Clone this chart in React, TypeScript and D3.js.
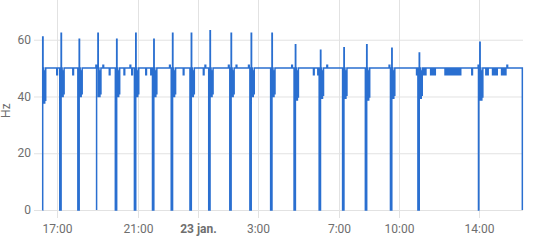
import React from 'react';
import * as d3 from 'd3';

// ---- data ----
const yTicks = [0, 20, 40, 60];
const xTickTimes = ['2024-01-22T17:00', '2024-01-22T21:00', '2024-01-23T00:00', '2024-01-23T03:00', '2024-01-23T07:00', '2024-01-23T10:00', '2024-01-23T14:00'];
const xTickLabels = ['17:00', '21:00', '23 jan.', '3:00', '7:00', '10:00', '14:00'];
const xTickBold = [false, false, true, false, false, false, false];

const domainStart = '2024-01-22T15:50';
const domainEnd = '2024-01-23T16:11';
const yMax = 74;

const nominal = 50;
const startTime = '2024-01-22T16:15';
const startPeak = 61;
const startLow = 37.7;
const endTime = '2024-01-23T16:09';

const outageTimes = [
  '2024-01-22T17:07', '2024-01-22T18:01', '2024-01-22T18:57', '2024-01-22T19:53',
  '2024-01-22T20:50', '2024-01-22T21:44', '2024-01-22T22:40', '2024-01-22T23:36',
  '2024-01-23T00:32', '2024-01-23T01:35', '2024-01-23T02:35', '2024-01-23T03:37',
  '2024-01-23T04:47', '2024-01-23T06:02', '2024-01-23T07:12', '2024-01-23T08:20',
  '2024-01-23T09:35', '2024-01-23T10:57', '2024-01-23T13:58',
];
const outagePeaks = [62.3, 60.2, 62.3, 60.2, 62.3, 60.2, 62.3, 62.3, 63.2, 62.3, 62.3, 62.3, 58.2, 56.3, 57.2, 58.2, 57.0, 55.3, 59.1];
const outageLows = [40, 40, 40, 40, 40, 40, 40, 40, 40, 40, 40, 40, 38.8, 39.4, 39.4, 38.8, 39.4, 39.4, 38.8];

const dipTimes = [
  '2024-01-22T16:58', '2024-01-22T17:46', '2024-01-22T19:35', '2024-01-22T20:19',
  '2024-01-22T20:42', '2024-01-22T21:24', '2024-01-22T21:39', '2024-01-22T23:16',
  '2024-01-23T00:16', '2024-01-23T05:45', '2024-01-23T05:58',
  '2024-01-23T10:53', '2024-01-23T11:13', '2024-01-23T11:19', '2024-01-23T11:35',
  '2024-01-23T11:41', '2024-01-23T11:47', '2024-01-23T12:18', '2024-01-23T12:23',
  '2024-01-23T12:27', '2024-01-23T12:32', '2024-01-23T12:36', '2024-01-23T12:41',
  '2024-01-23T12:45', '2024-01-23T12:50', '2024-01-23T12:54', '2024-01-23T12:59',
  '2024-01-23T13:03', '2024-01-23T13:38', '2024-01-23T14:20', '2024-01-23T14:25',
  '2024-01-23T14:40', '2024-01-23T14:46', '2024-01-23T14:52', '2024-01-23T15:07',
  '2024-01-23T15:13', '2024-01-23T15:18',
];
const dipValue = 47.7;
const bumpTimes = [
  '2024-01-22T18:55', '2024-01-22T19:16', '2024-01-22T20:37', '2024-01-22T22:35',
  '2024-01-23T00:21', '2024-01-23T01:31', '2024-01-23T01:54', '2024-01-23T02:31',
  '2024-01-23T04:40', '2024-01-23T06:25', '2024-01-23T09:31', '2024-01-23T13:57',
  '2024-01-23T15:23',
];
const bumpValue = 51;

// ---- layout ----
const W = 535;
const H = 242;
const left = 34;
const right = 523;
const top = 0;
const bottom = 210;
const color = '#2a6fd0';
const gridColor = '#e2e2e2';
const textColor = '#6e6e6e';

type P = { t: Date; v: number };

function buildSeries(): P[] {
  const pts: P[] = [];
  const add = (d: Date, m: number, v: number) => pts.push({ t: d3.timeMinute.offset(d, m), v });
  const ring = (d: Date, peak: number, low: number, first: number) => {
    add(d, first, peak);
    add(d, first + 1, low);
    add(d, first + 2, nominal);
    add(d, first + 3, low + 2);
    add(d, first + 4, nominal - 1);
    add(d, first + 5, low);
    add(d, first + 6, nominal - 2);
    add(d, first + 7, low + 1);
    add(d, first + 9, nominal);
  };
  const s = new Date(startTime);
  add(s, 0, 0);
  ring(s, startPeak, startLow, 1);
  outageTimes.forEach((ts, i) => {
    const d = new Date(ts);
    add(d, 0, 0);
    ring(d, outagePeaks[i], outageLows[i], 4);
  });
  dipTimes.forEach((ts) => {
    const d = new Date(ts);
    add(d, 0, dipValue);
    add(d, 2, nominal);
  });
  bumpTimes.forEach((ts) => {
    const d = new Date(ts);
    add(d, 0, bumpValue);
    add(d, 2, nominal);
  });
  pts.push({ t: new Date(endTime), v: 0 });
  pts.sort((a, b) => +a.t - +b.t);
  return pts;
}

export default function App() {
  const x = d3.scaleTime().domain([new Date(domainStart), new Date(domainEnd)]).range([left, right]);
  const y = d3.scaleLinear().domain([0, yMax]).range([bottom, top]);
  const series = buildSeries();
  const line = d3.line<P>().x((d) => x(d.t)).y((d) => y(d.v)).curve(d3.curveStepAfter);

  return (
    <svg width={W} height={H} style={{ position: 'absolute', left: 0, top: 0, fontFamily: 'Roboto, sans-serif' }}>
      {yTicks.map((t) => (
        <g key={'y' + t}>
          <line x1={left} x2={right} y1={y(t) + 0.5} y2={y(t) + 0.5} stroke={gridColor} strokeWidth={1} />
          <text x={31} y={y(t)} dy="0.35em" textAnchor="end" fontSize={12} fill={textColor}>{t}</text>
        </g>
      ))}
      {xTickTimes.map((ts, i) => {
        const xx = Math.round(x(new Date(ts))) + 0.5;
        return (
          <g key={'x' + i}>
            <line x1={xx} x2={xx} y1={top} y2={bottom + 8} stroke={gridColor} strokeWidth={1} />
            <text x={xx} y={232.5} textAnchor="middle" fontSize={12} fill={textColor} fontWeight={xTickBold[i] ? 'bold' : 'normal'}>{xTickLabels[i]}</text>
          </g>
        );
      })}
      <text transform={`translate(10,${y(35)}) rotate(-90)`} textAnchor="middle" fontSize={12} fill={textColor}>Hz</text>
      <path d={line(series) || ''} fill="none" stroke={color} strokeWidth={1.5} />
    </svg>
  );
}
